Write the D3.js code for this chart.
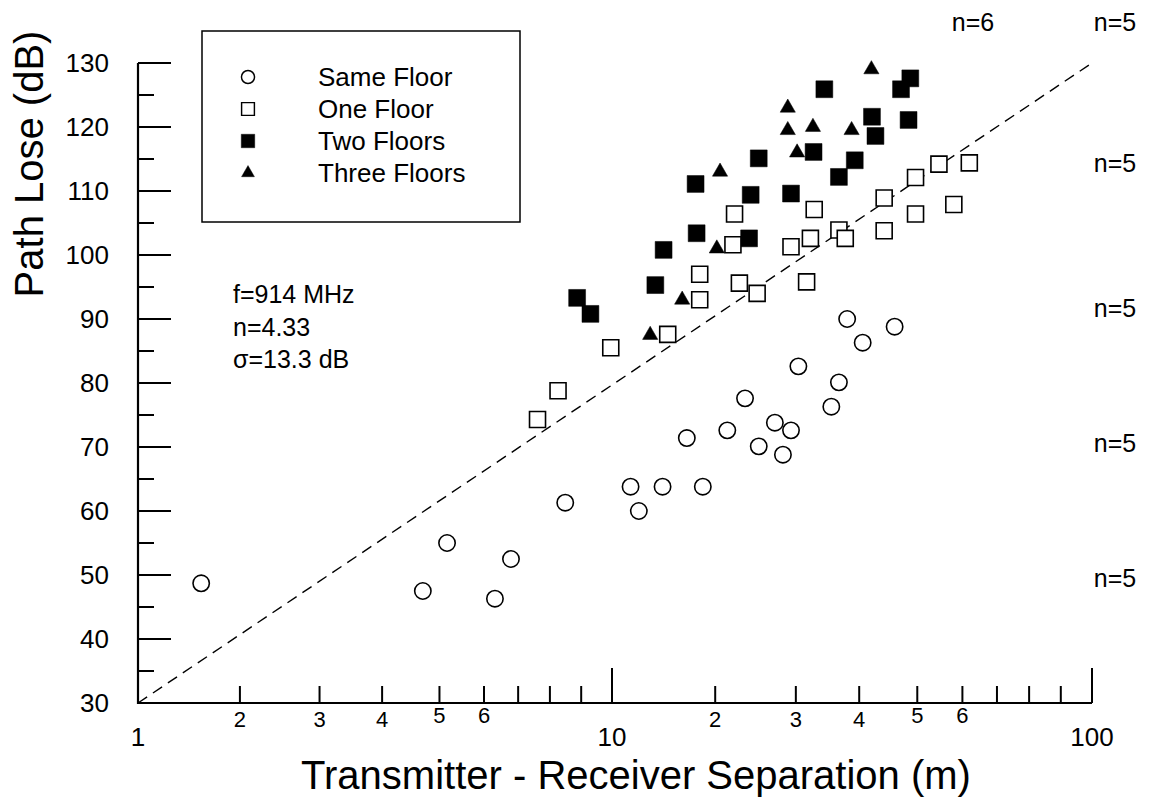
<!DOCTYPE html>
<html>
<head>
<meta charset="utf-8">
<script src="https://cdn.jsdelivr.net/npm/d3@7"></script>
<style>
  html, body { margin: 0; padding: 0; background: #fff; }
  svg text { font-family: "Liberation Sans", Arial, Helvetica, sans-serif; fill: #000; }
</style>
</head>
<body>
<svg id="chart" width="1153" height="798"></svg>
<script>
// ---------------- data ----------------
const sameFloorX = [1.62, 4.71, 5.17, 6.32, 6.79, 8.49, 11.8, 12.6, 14.9, 18.8, 17.25, 21.5, 23.7, 25.4, 27.4, 28.4, 29.4, 30.4, 35.6, 36.8, 38.1, 40.6, 46.1];
const sameFloorY = [48.7, 47.5, 55.0, 46.3, 52.5, 61.3, 63.8, 60.0, 63.8, 63.8, 71.4, 72.6, 77.6, 70.1, 73.8, 68.8, 72.6, 82.6, 76.3, 80.1, 90.0, 86.3, 88.8];

const oneFloorX = [7.61, 8.26, 9.96, 15.4, 18.5, 18.5, 22.4, 22.2, 23.0, 25.2, 32.9, 29.4, 32.3, 36.8, 37.8, 44.3, 44.3, 49.7, 49.7, 54.8, 58.1, 62.0, 31.7];
const oneFloorY = [74.3, 78.8, 85.5, 87.6, 93.0, 97.0, 106.4, 101.6, 95.6, 94.0, 107.1, 101.3, 102.6, 103.9, 102.6, 108.9, 103.8, 112.1, 106.4, 114.2, 107.9, 114.4, 95.8];

const twoFloorsX = [8.87, 9.3, 14.2, 15.0, 18.1, 18.2, 24.4, 24.2, 25.4, 34.5, 29.4, 32.8, 39.3, 36.8, 42.2, 42.8, 47.2, 48.8, 48.5];
const twoFloorsY = [93.3, 90.8, 95.3, 100.8, 111.1, 103.4, 109.4, 102.6, 115.1, 125.9, 109.6, 116.1, 114.8, 112.2, 121.6, 118.6, 125.9, 127.6, 121.1];

const threeFloorsX = [13.7, 16.8, 20.2, 20.6, 29.0, 29.0, 32.7, 30.2, 38.8, 42.1];
const threeFloorsY = [87.5, 93.0, 101.0, 113.0, 123.0, 119.5, 120.0, 116.0, 119.5, 129.0];

const legendLabels = ["Same Floor", "One Floor", "Two Floors", "Three Floors"];
const fitLineX = [1, 100];
const fitLineY = [30, 130];
const annotationLines = ["f=914 MHz", "n=4.33", "σ=13.3 dB"];
const slopeLabels = ["n=6", "n=5", "n=5", "n=5", "n=5", "n=5"];

const yTickValues = d3.range(30, 131, 5);
const xTickValues = [1,2,3,4,5,6,7,8,9,10,20,30,40,50,60,70,80,90,100];
const xMajorLabels = [1, 10, 100];
const xMinorLabelDigits = [2, 3, 4, 5, 6];

// ---------------- layout ----------------
const svg = d3.select("#chart");
const X0 = 138, X1 = 1092, Y0 = 703, Y1 = 63;
// decade boundaries and tick placement inside one decade as drawn in the reference figure
const decadeEdges = [138, 612, 1092];
const decadeFrac = [0, 0.215, 0.383, 0.515, 0.636, 0.73, 0.802, 0.869, 0.935, 1];
const xRange = xTickValues.map(v => {
  let dec = Math.floor(Math.log10(v) + 1e-9);
  let digit = Math.round(v / Math.pow(10, dec));
  if (dec === 2) { dec = 1; digit = 10; }
  const w = decadeEdges[dec + 1] - decadeEdges[dec];
  return decadeEdges[dec] + decadeFrac[digit - 1] * w;
});
const x = d3.scaleLinear().domain(xTickValues).range(xRange);
const y = d3.scaleLinear().domain([30, 130]).range([Y0, Y1]);

// ---------------- fit line ----------------
svg.append("path")
  .datum(fitLineX.map((v, i) => [v, fitLineY[i]]))
  .attr("d", d3.line().x(d => x(d[0])).y(d => y(d[1])))
  .attr("fill", "none").attr("stroke", "#000").attr("stroke-width", 1.4)
  .attr("stroke-dasharray", "11,7");

// ---------------- axes ----------------
const axis = svg.append("g");
axis.append("line").attr("x1", X0).attr("x2", X0).attr("y1", y(130)).attr("y2", Y0 + 1)
  .attr("stroke", "#000").attr("stroke-width", 2.2);
axis.append("line").attr("x1", X0 - 1).attr("x2", X1).attr("y1", Y0).attr("y2", Y0)
  .attr("stroke", "#000").attr("stroke-width", 2.2);

yTickValues.forEach(v => {
  const major = v % 10 === 0;
  axis.append("line").attr("x1", X0).attr("x2", X0 + (major ? 33 : 16))
    .attr("y1", y(v)).attr("y2", y(v)).attr("stroke", "#000").attr("stroke-width", 2);
  if (major) {
    axis.append("text").attr("x", 109).attr("y", y(v) + 9)
      .attr("text-anchor", "end").attr("font-size", 26).text(v);
  }
});

xTickValues.forEach(v => {
  if (v === 1) return;
  const major = xMajorLabels.includes(v);
  axis.append("line").attr("x1", x(v)).attr("x2", x(v))
    .attr("y1", Y0).attr("y2", Y0 - (major ? 35 : 17))
    .attr("stroke", "#000").attr("stroke-width", 2);
});
xMajorLabels.forEach(v => {
  axis.append("text").attr("x", x(v)).attr("y", 746)
    .attr("text-anchor", "middle").attr("font-size", 26).text(v);
});
xTickValues.forEach(v => {
  const dec = Math.floor(Math.log10(v) + 1e-9);
  const digit = Math.round(v / Math.pow(10, dec));
  if (v < 100 && xMinorLabelDigits.includes(digit)) {
    axis.append("text").attr("x", x(v)).attr("y", digit >= 5 ? 723 : 727)
      .attr("text-anchor", "middle").attr("font-size", 22).text(digit);
  }
});

// axis titles
svg.append("text").attr("x", 636).attr("y", 789).attr("text-anchor", "middle")
  .attr("font-size", 40).text("Transmitter - Receiver Separation (m)");
svg.append("text").attr("transform", "translate(43,164) rotate(-90)")
  .attr("text-anchor", "middle").attr("font-size", 40).text("Path Lose (dB)");

// ---------------- markers ----------------
const circleSym = d3.symbol().type(d3.symbolCircle).size(210)();
const squareSym = d3.symbol().type(d3.symbolSquare).size(256)();
const fSquareSym = d3.symbol().type(d3.symbolSquare).size(285)();
const triSym = d3.symbol().type(d3.symbolTriangle).size(100)();

function plot(xs, ys, sym, filled) {
  svg.append("g").selectAll("path").data(xs.map((v, i) => [v, ys[i]])).join("path")
    .attr("d", sym)
    .attr("transform", d => `translate(${x(d[0])},${y(d[1])})`)
    .attr("fill", filled ? "#000" : "#fff")
    .attr("stroke", "#000").attr("stroke-width", filled ? 0.5 : 1.6);
}
plot(sameFloorX, sameFloorY, circleSym, false);
plot(twoFloorsX, twoFloorsY, fSquareSym, true);
plot(oneFloorX, oneFloorY, squareSym, false);
plot(threeFloorsX, threeFloorsY, triSym, true);

// ---------------- legend ----------------
const lg = svg.append("g");
lg.append("rect").attr("x", 202).attr("y", 31).attr("width", 318).attr("height", 191)
  .attr("fill", "none").attr("stroke", "#000").attr("stroke-width", 1.5);
const legSyms = [[circleSym, false], [squareSym, false], [fSquareSym, true], [triSym, true]];
const legRows = [77, 109, 141, 173];
legendLabels.forEach((lab, i) => {
  const s = legSyms[i];
  const sc = i === 3 ? 0.85 : 0.8;
  lg.append("path").attr("d", s[0])
    .attr("transform", `translate(248,${legRows[i]}) scale(${sc})`)
    .attr("fill", s[1] ? "#000" : "#fff").attr("stroke", "#000")
    .attr("stroke-width", s[1] ? 0.5 : 1.8);
  lg.append("text").attr("x", 318).attr("y", legRows[i] + 9).attr("font-size", 26).text(lab);
});

// ---------------- annotations ----------------
const annY = [303, 336, 368];
annotationLines.forEach((t, i) => {
  svg.append("text").attr("x", 233).attr("y", annY[i]).attr("font-size", 25).text(t);
});
const slopePos = [[973, 31], [1115, 31], [1115, 172], [1115, 317], [1115, 452], [1115, 587]];
slopeLabels.forEach((t, i) => {
  svg.append("text").attr("x", slopePos[i][0]).attr("y", slopePos[i][1])
    .attr("text-anchor", "middle").attr("font-size", 25).text(t);
});
</script>
</body>
</html>
